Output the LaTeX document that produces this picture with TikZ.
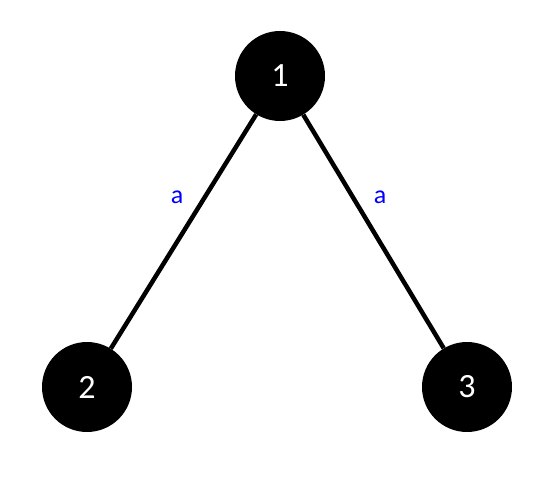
\documentclass[tikz,border=0pt]{standalone}
\usepackage{fontspec}
\setmainfont{Carlito}
\begin{document}
\begin{tikzpicture}[x=1pt,y=-1pt,
  vnode/.style={circle,fill=black,minimum size=90pt,inner sep=0pt,text=white,font=\fontsize{34}{38}\selectfont},
  edge/.style={line width=4.5pt},
  elabel/.style={text=blue,font=\fontsize{26}{30}\selectfont}]
\useasboundingbox (0,0) rectangle (556,486);
\node[vnode] (n1) at (280,76) {1};
\node[vnode] (n2) at (87,387) {2};
\node[vnode] (n3) at (467,387) {3};
\draw[edge] (n1) -- (n2);
\draw[edge] (n1) -- (n3);
\node[elabel] (l1) at (177,197) {a};
\node[elabel] (l2) at (380,197) {a};
\end{tikzpicture}
\end{document}
